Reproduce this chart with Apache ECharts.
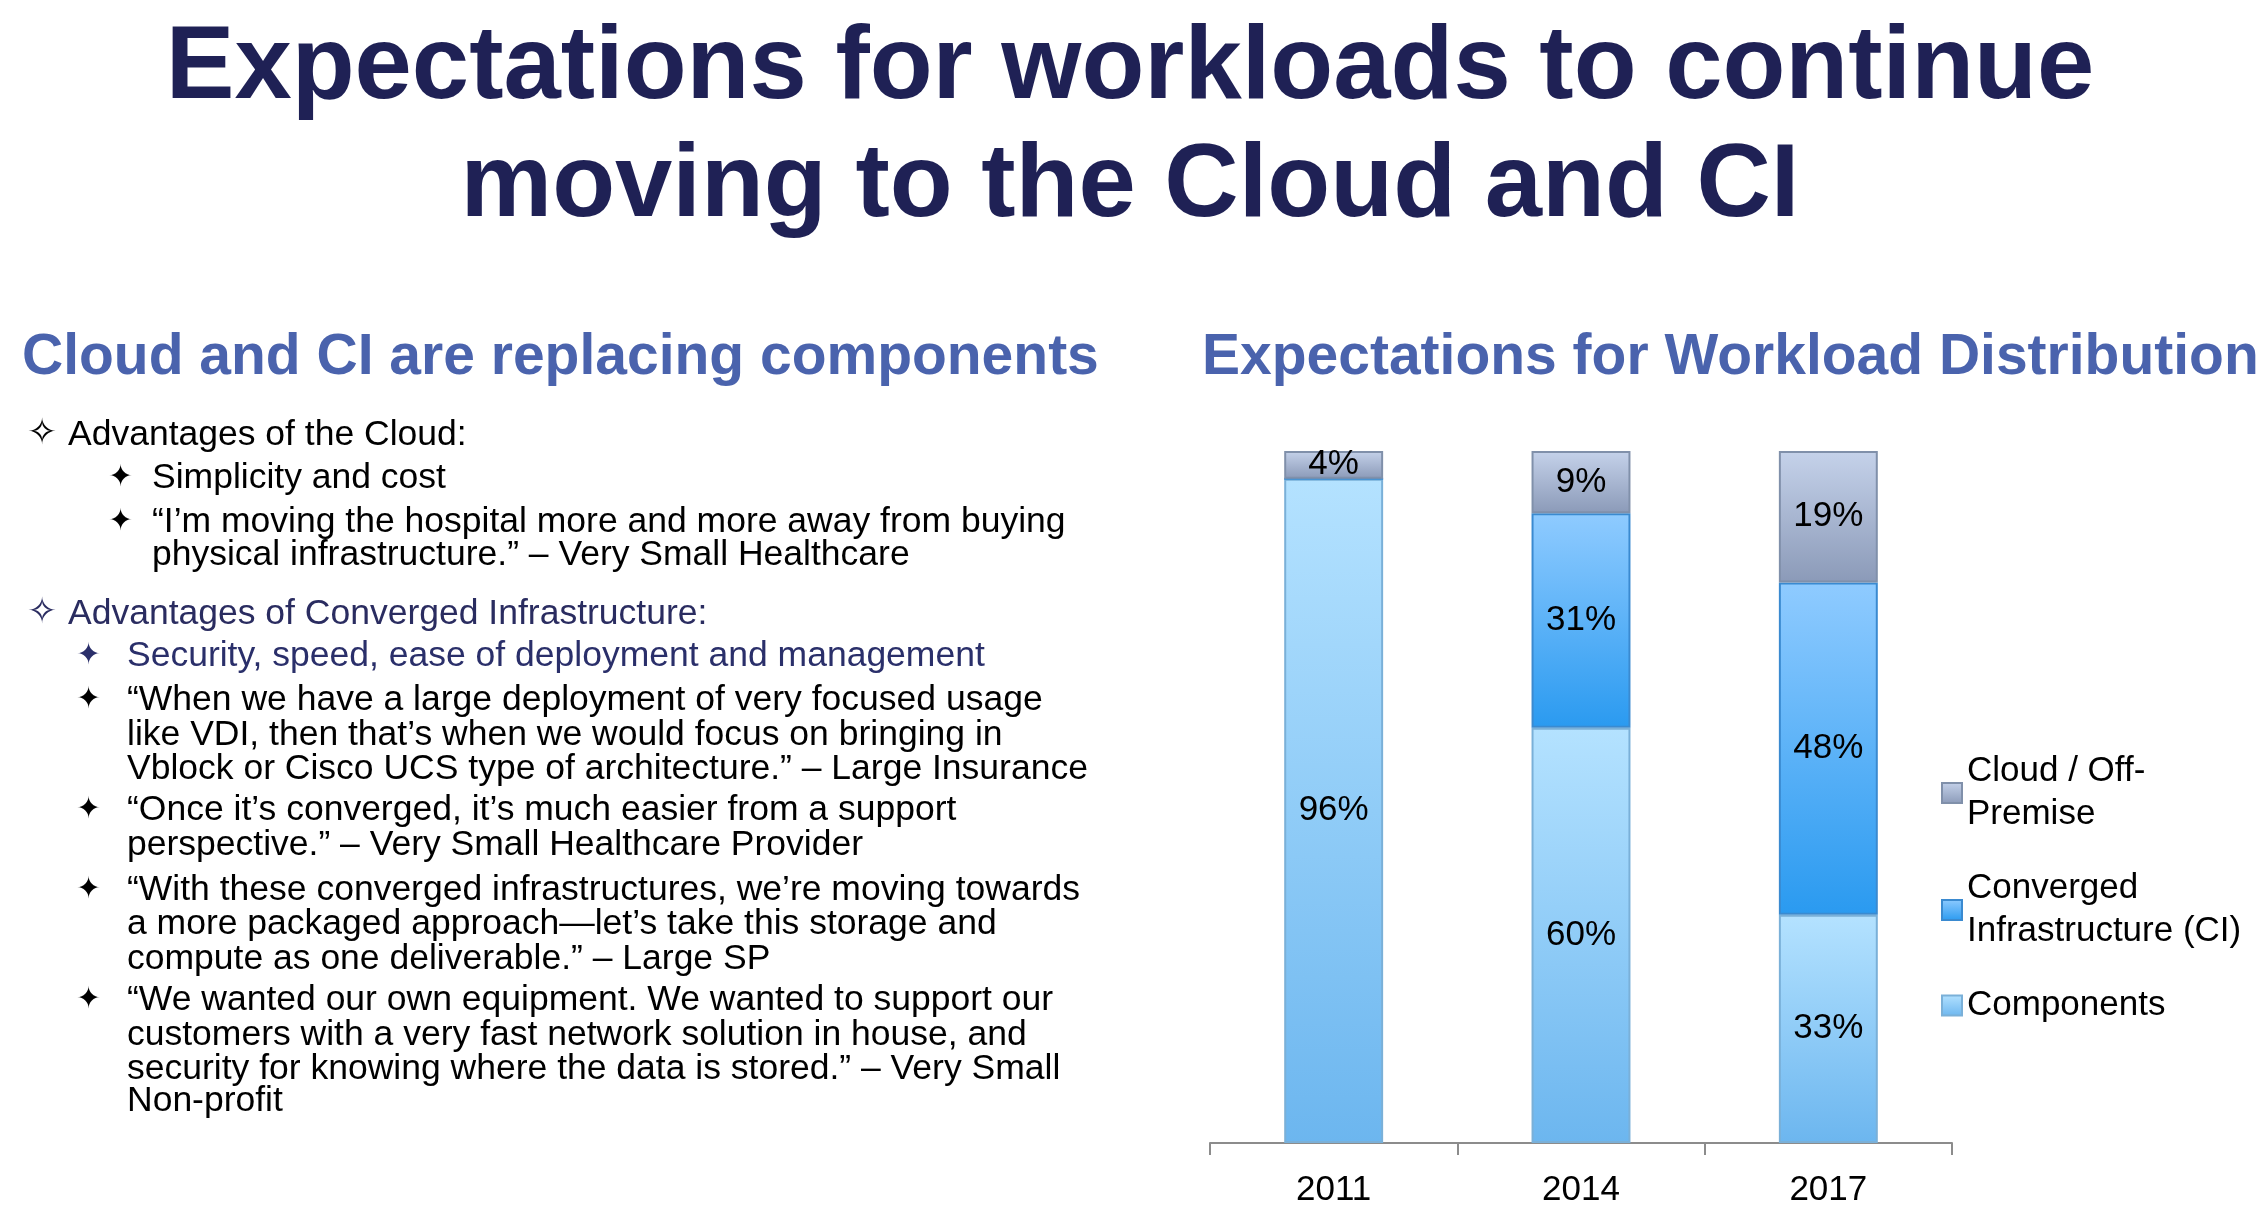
<!DOCTYPE html>
<html>
<head>
<meta charset="utf-8">
<script src="https://cdn.jsdelivr.net/npm/echarts@6/dist/echarts.min.js"></script>
<style>
  html, body { margin: 0; padding: 0; background: #fff; }
  #chart { width: 2260px; height: 1223px; }
</style>
</head>
<body>
<div id="chart"></div>
<script>
// chart data
const years = ['2011', '2014', '2017']
const components = [96, 60, 33]
const converged = [0, 31, 48]
const cloud = [4, 9, 19]
const seriesNames = ['Components', 'Converged Infrastructure (CI)', 'Cloud / Off-Premise']
const legendLabels = {
  'Cloud / Off-Premise': 'Cloud / Off-\nPremise',
  'Converged Infrastructure (CI)': 'Converged\nInfrastructure (CI)',
  'Components': 'Components'
}

const FONT = '"Liberation Sans", Arial, sans-serif'
const NAVY = '#1f2155'
const SUB = '#4a63ad'

// left side bullet text
const bulletLines = [
  { star: '✧', sx: 27, tx: 68, y: 435, color: '#000', text: 'Advantages of the Cloud:' },
  { star: '✦', sx: 108, tx: 152, y: 478, color: '#000', text: 'Simplicity and cost' },
  { star: '✦', sx: 108, tx: 152, y: 522, color: '#000', text: '\u201cI\u2019m moving the hospital more and more away from buying' },
  { star: '', sx: 0, tx: 152, y: 555, color: '#000', text: 'physical infrastructure.\u201d \u2013 Very Small Healthcare' },
  { star: '✧', sx: 27, tx: 68, y: 614, color: '#2a2c60', text: 'Advantages of Converged Infrastructure:' },
  { star: '✦', sx: 76, tx: 127, y: 656, color: '#2a2f6a', text: 'Security, speed, ease of deployment and management' },
  { star: '✦', sx: 76, tx: 127, y: 700, color: '#000', text: '\u201cWhen we have a large deployment of very focused usage' },
  { star: '', sx: 0, tx: 127, y: 735, color: '#000', text: 'like VDI, then that\u2019s when we would focus on bringing in' },
  { star: '', sx: 0, tx: 127, y: 769, color: '#000', text: 'Vblock or Cisco UCS type of architecture.\u201d \u2013 Large Insurance' },
  { star: '✦', sx: 76, tx: 127, y: 810, color: '#000', text: '\u201cOnce it\u2019s converged, it\u2019s much easier from a support' },
  { star: '', sx: 0, tx: 127, y: 845, color: '#000', text: 'perspective.\u201d \u2013 Very Small Healthcare Provider' },
  { star: '✦', sx: 76, tx: 127, y: 890, color: '#000', text: '\u201cWith these converged infrastructures, we\u2019re moving towards' },
  { star: '', sx: 0, tx: 127, y: 924, color: '#000', text: 'a more packaged approach\u2014let\u2019s take this storage and' },
  { star: '', sx: 0, tx: 127, y: 959, color: '#000', text: 'compute as one deliverable.\u201d \u2013 Large SP' },
  { star: '✦', sx: 76, tx: 127, y: 1000, color: '#000', text: '\u201cWe wanted our own equipment. We wanted to support our' },
  { star: '', sx: 0, tx: 127, y: 1035, color: '#000', text: 'customers with a very fast network solution in house, and' },
  { star: '', sx: 0, tx: 127, y: 1069, color: '#000', text: 'security for knowing where the data is stored.\u201d \u2013 Very Small' },
  { star: '', sx: 0, tx: 127, y: 1101, color: '#000', text: 'Non-profit' }
]

function grad (top, bottom) {
  return new echarts.graphic.LinearGradient(0, 0, 0, 1, [
    { offset: 0, color: top },
    { offset: 1, color: bottom }
  ])
}

let graphics = [
  { type: 'text', left: 'center', top: 18, style: { text: 'Expectations for workloads to continue', font: 'bold 103px ' + FONT, fill: NAVY } },
  { type: 'text', left: 'center', top: 136, style: { text: 'moving to the Cloud and CI', font: 'bold 103px ' + FONT, fill: NAVY } },
  { type: 'text', left: 22, top: 330, style: { text: 'Cloud and CI are replacing components', font: 'bold 57px ' + FONT, fill: SUB } },
  { type: 'text', left: 1202, top: 330, style: { text: 'Expectations for Workload Distribution', font: 'bold 57px ' + FONT, fill: SUB } }
]
bulletLines.forEach(function (l) {
  if (l.star) {
    graphics.push({ type: 'text', x: l.sx, y: l.y, style: { text: l.star, font: (l.star === '✧' ? 36 : 30) + 'px "DejaVu Sans"', fill: l.color, verticalAlign: 'middle' } })
  }
  graphics.push({ type: 'text', x: l.tx, y: l.y, style: { text: l.text, font: '35.5px ' + FONT, fill: l.color, verticalAlign: 'middle' } })
})

function barSeries (name, data, top, bottom, border) {
  return {
    name: name,
    type: 'bar',
    stack: 'total',
    barWidth: '40%',
    data: data,
    itemStyle: { color: grad(top, bottom), borderColor: border, borderWidth: 2 },
    label: {
      show: true,
      position: 'inside',
      color: '#000',
      fontSize: 35,
      fontFamily: FONT,
      formatter: function (p) { return p.value > 0 ? p.value + '%' : '' }
    }
  }
}

let chart = echarts.init(document.getElementById('chart'))
let option = {
  animation: false,
  graphic: graphics,
  grid: { left: 1210, right: 308, top: 451, bottom: 80 },
  legend: {
    orient: 'vertical',
    left: 1936,
    top: 745,
    itemWidth: 20,
    itemHeight: 20,
    itemGap: 31,
    data: ['Cloud / Off-Premise', 'Converged Infrastructure (CI)', 'Components'],
    icon: 'rect',
    formatter: function (n) { return legendLabels[n] },
    textStyle: { fontSize: 35, fontFamily: FONT, color: '#000', lineHeight: 43 }
  },
  xAxis: {
    type: 'category',
    data: years,
    axisLine: { lineStyle: { color: '#8c8c8c', width: 2 } },
    axisTick: { show: true, length: 12, lineStyle: { color: '#8c8c8c', width: 2 } },
    axisLabel: { fontSize: 35, fontFamily: FONT, color: '#000', margin: 30 }
  },
  yAxis: { type: 'value', min: 0, max: 100, show: false },
  series: [
    barSeries(seriesNames[0], components, '#b4e2ff', '#6cb6ef', '#7ab0d8'),
    barSeries(seriesNames[1], converged, '#8fcbff', '#2a9af0', '#3a8ad0'),
    barSeries(seriesNames[2], cloud, '#c5d2ea', '#8b9ab8', '#8090aa')
  ]
}
chart.setOption(option)
</script>
</body>
</html>
